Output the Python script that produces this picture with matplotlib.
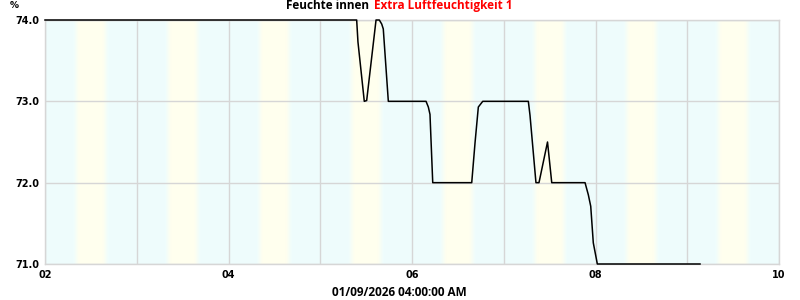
import numpy as np
import matplotlib
matplotlib.use("Agg")
import matplotlib.pyplot as plt

# data (hours axis, humidity %)
hours = [2.0, 5.397, 5.411, 5.480, 5.506, 5.608, 5.644, 5.670, 5.687, 5.742,
         6.153, 6.178, 6.196, 6.226, 6.651, 6.687, 6.723, 6.771, 7.268, 7.286,
         7.351, 7.384, 7.477, 7.523, 7.886, 7.922, 7.948, 7.976, 8.020, 9.139]
humidity = [74.0, 74.0, 73.73, 73.0, 73.01, 74.0, 74.0, 73.95, 73.89, 73.0,
            73.0, 72.93, 72.84, 72.0, 72.0, 72.49, 72.93, 73.0, 73.0, 72.83,
            72.0, 72.0, 72.5, 72.0, 72.0, 71.85, 71.71, 71.26, 71.0, 71.0]
xticks = [2, 4, 6, 8, 10]
xtick_labels = ["02", "04", "06", "08", "10"]
yticks = [71.0, 72.0, 73.0, 74.0]
ytick_labels = ["71.0", "72.0", "73.0", "74.0"]
title_black = "Feuchte innen"
title_red = "Extra Luftfeuchtigkeit 1"
xlabel = "01/09/2026 04:00:00 AM"
ylabel = "%"

fig = plt.figure(figsize=(8, 3), dpi=100)
ax = fig.add_axes([45/800, 1-264/300, (779-45)/800, (264-20)/300])

# background bands
xs = np.linspace(2, 10, 3000)
frac = (xs - 2) % 1.0
w = np.clip((frac - 0.31) / 0.06, 0, 1) * np.clip((0.69 - frac) / 0.06, 0, 1)
cyan = np.array([0.937, 0.992, 0.992])
yellow = np.array([1.0, 1.0, 0.937])
cols = cyan[None, :] * (1 - w[:, None]) + yellow[None, :] * w[:, None]
ax.imshow(cols[None, :, :], extent=[2, 10, 71, 74], aspect='auto', zorder=0,
          interpolation='bilinear')

ax.set_xlim(2, 10)
ax.set_ylim(71, 74)
ax.grid(True, color='#d6d6d6', lw=1, zorder=1)
ax.set_xticks(np.arange(2, 11, 1))
ax.set_xticklabels(["" if v not in xticks else xtick_labels[xticks.index(v)] for v in range(2, 11)])
ax.set_yticks(yticks)
ax.set_yticklabels(ytick_labels)
ax.tick_params(length=0, labelsize=7, pad=4)
for lab in ax.get_xticklabels() + ax.get_yticklabels():
    lab.set_fontweight('bold')
    lab.set_family('DejaVu Sans')
for s in ax.spines.values():
    s.set_color('#d6d6d6')
    s.set_linewidth(1)

ax.plot(hours, humidity, color='black', lw=1.1, zorder=3, clip_on=False,
        solid_joinstyle='round')

fig.text(369/800, 1-5.5/300, title_black, ha='right', va='center',
         family='Open Sans', weight='bold', fontsize=8.5, color='black')
fig.text(374/800, 1-5.5/300, title_red, ha='left', va='center',
         family='Open Sans', weight='bold', fontsize=8.5, color='#ff0000')
fig.text(399/800, 1-292/300, xlabel, ha='center', va='center',
         family='Open Sans', weight='bold', fontsize=8.5, color='black')
fig.text(14/800, 1-5/300, ylabel, ha='center', va='center',
         family='DejaVu Sans', weight='bold', fontsize=6.5, color='black')

fig.savefig("out.png", dpi=100)
